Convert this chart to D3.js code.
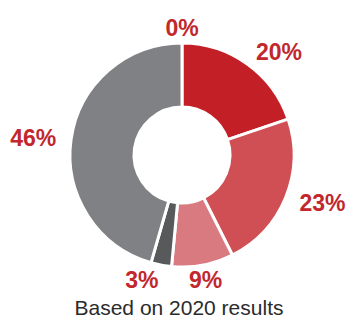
<!DOCTYPE html>
<html>
<head>
<meta charset="utf-8">
<script src="https://cdn.jsdelivr.net/npm/d3@7"></script>
<style>
  body { margin: 0; background: #fff; }
</style>
</head>
<body>
<div id="chart"></div>
<script>
const labels = ["0%", "20%", "23%", "9%", "3%", "46%"];
const values = [0, 20, 23, 9, 3, 46];
const colors = ["#c21f27", "#c21f27", "#cf4f55", "#d97a80", "#58595b", "#808184"];
const caption = "Based on 2020 results";

const width = 351, height = 321;
const cx = 182, cy = 155;
const outerR = 112, innerR = 48, labelR = 127;

const svg = d3.select("#chart").append("svg")
  .attr("width", width)
  .attr("height", height);

const g = svg.append("g")
  .attr("transform", "translate(" + cx + "," + cy + ")");

const pie = d3.pie().sort(null).value(d => d);
const arcs = pie(values);

const arc = d3.arc().innerRadius(innerR).outerRadius(outerR);

g.selectAll("path")
  .data(arcs)
  .enter().append("path")
  .attr("d", arc)
  .attr("fill", (d, i) => colors[i])
  .attr("stroke", "#fff")
  .attr("stroke-width", 3)
  .attr("stroke-linejoin", "miter");

// labels outside the ring
g.selectAll("text.lbl")
  .data(arcs)
  .enter().append("text")
  .attr("class", "lbl")
  .attr("x", d => Math.sin((d.startAngle + d.endAngle) / 2) * labelR)
  .attr("y", d => -Math.cos((d.startAngle + d.endAngle) / 2) * labelR)
  .attr("dy", "0.36em")
  .attr("text-anchor", d => {
    const s = Math.sin((d.startAngle + d.endAngle) / 2);
    return s > 0.3 ? "start" : (s < -0.1 ? "end" : "middle");
  })
  .attr("font-family", "Liberation Sans, Arial, sans-serif")
  .attr("font-weight", "bold")
  .attr("font-size", "23px")
  .attr("fill", "#c1272d")
  .text((d, i) => labels[i]);

svg.append("text")
  .attr("x", 179)
  .attr("y", 315)
  .attr("text-anchor", "middle")
  .attr("font-family", "Liberation Sans, Arial, sans-serif")
  .attr("font-size", "21px")
  .attr("fill", "#2b2b2b")
  .text(caption);
</script>
</body>
</html>
